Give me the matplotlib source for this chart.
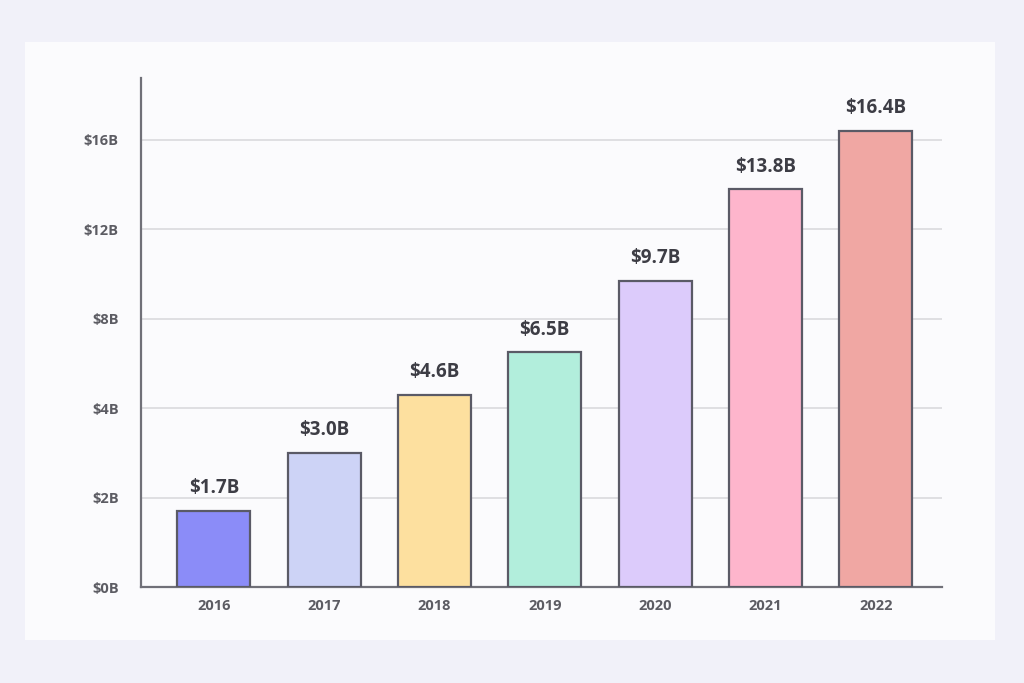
import numpy as np
import matplotlib
matplotlib.use("Agg")
import matplotlib.pyplot as plt
from matplotlib.patches import Rectangle

years = ["2016", "2017", "2018", "2019", "2020", "2021", "2022"]
values = [1.7, 3.0, 4.6, 6.5, 9.7, 13.8, 16.4]
value_labels = ["$1.7B", "$3.0B", "$4.6B", "$6.5B", "$9.7B", "$13.8B", "$16.4B"]
colors = ["#8b8cf8", "#cdd3f6", "#fde09f", "#b2eedc", "#dccbfb", "#feb5cc", "#f0a7a3"]
yticks = [0, 2, 4, 8, 12, 16]
ytick_labels = ["$0B", "$2B", "$4B", "$8B", "$12B", "$16B"]

plt.rcParams['font.family'] = ['Open Sans', 'DejaVu Sans']

# piecewise-linear axis: tick values equally spaced
knots_v = np.array(yticks + [20], dtype=float)
knots_p = np.arange(len(knots_v), dtype=float)

def fwd(v):
    return np.interp(v, knots_v, knots_p)

def inv(p):
    return np.interp(p, knots_p, knots_v)

fig = plt.figure(figsize=(10.24, 6.83), dpi=100)
fig.patch.set_facecolor("#f1f1f9")
card = Rectangle((25/1024, 43/683), 970/1024, 598/683, transform=fig.transFigure,
                 facecolor="#fbfbfd", edgecolor="none", zorder=-5)
fig.patches.append(card)

ax = fig.add_axes([141/1024, 1-587/683, (942-141)/1024, (587-78)/683])
ax.set_zorder(1)
ax.set_facecolor("none")
ax.set_yscale("function", functions=(fwd, inv))

x = np.arange(len(years))
bars = ax.bar(x, values, width=0.66, color=colors, edgecolor="#5a5a66", linewidth=1.6, zorder=3)

for xi, v, lab in zip(x, values, value_labels):
    ax.annotate(lab.replace("$", r"\$"), (xi, v), xytext=(0, 9), textcoords="offset points",
                ha="center", va="bottom", fontsize=13.5, fontweight="bold", color="#3d3d45")

ax.set_xlim(-0.66, 6.6)
ax.set_ylim(0, inv(fwd(16) + 62/89.5))
ax.set_yticks(yticks)
ax.set_yticklabels([t.replace("$", r"\$") for t in ytick_labels])
ax.set_xticks(x)
ax.set_xticklabels(years)
ax.yaxis.grid(True, color="#dcdce0", linewidth=1.3, zorder=0)
ax.set_axisbelow(True)
ax.tick_params(axis="both", length=0, labelsize=10.5, labelcolor="#5c5c63")
ax.tick_params(axis="y", pad=16)
ax.tick_params(axis="x", pad=9)
for lab in ax.get_xticklabels() + ax.get_yticklabels():
    lab.set_fontweight("bold")
for s in ["top", "right"]:
    ax.spines[s].set_visible(False)
for s in ["left", "bottom"]:
    ax.spines[s].set_color("#707078")
    ax.spines[s].set_linewidth(1.6)

fig.savefig("out.png", dpi=100, facecolor=fig.get_facecolor())
